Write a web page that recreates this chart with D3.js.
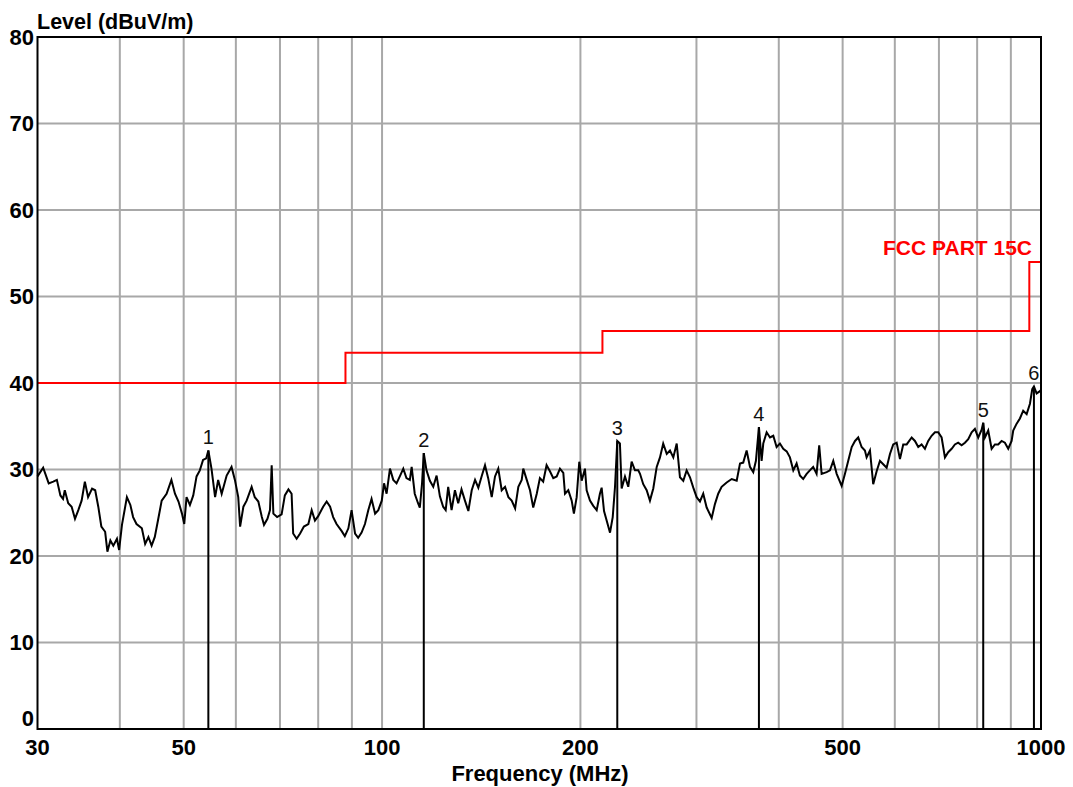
<!DOCTYPE html>
<html>
<head>
<meta charset="utf-8">
<script src="https://cdn.jsdelivr.net/npm/d3@7"></script>
<style>
  body { margin: 0; background: #fff; }
  svg { display: block; font-family: "Liberation Sans", Arial, sans-serif; }
</style>
</head>
<body>
<svg id="chart" width="1073" height="787"></svg>
<script>
// trace (MHz, dBuV/m)
var freqs = [30.0,30.6,31.2,31.7,32.1,32.5,32.8,33.0,33.4,33.8,34.2,34.6,35.0,35.4,35.8,36.3,36.7,37.1,37.5,38.0,
  38.3,38.7,39.1,39.6,39.9,40.3,41.0,41.5,41.9,42.4,43.2,43.7,44.2,44.7,45.2,45.7,46.3,47.1,47.9,48.5,
  49.1,49.7,50.1,50.5,51.1,51.7,52.3,52.9,53.5,54.1,54.5,55.1,55.8,56.4,57.1,58.1,59.1,59.8,60.5,60.9,
  61.6,62.3,63.4,64.1,64.9,65.7,66.2,67.0,67.6,68.0,68.4,69.3,70.4,71.2,72.1,72.9,73.3,74.2,75.1,76.1,
  77.3,78.2,79.1,80.0,81.4,82.4,83.4,84.3,85.3,86.8,87.8,88.9,89.9,91.0,92.0,93.1,94.2,95.3,96.4,97.6,
  98.7,99.9,100.7,101.6,102.8,104.0,105.2,106.4,107.7,108.9,110.2,110.9,112.1,113.4,114.1,115.0,115.7,116.8,118.2,119.6,
  121.0,122.4,123.8,124.9,126.0,127.5,129.0,130.5,132.0,133.6,135.2,136.8,138.4,140.0,141.6,143.3,144.9,146.7,148.4,150.1,
  151.9,153.7,155.5,157.3,159.2,161.0,162.9,163.8,165.8,167.7,169.6,171.7,173.6,175.6,177.7,179.8,181.9,184.1,186.2,188.4,
  189.5,191.7,194.0,195.5,197.4,199.2,200.9,203.2,204.4,206.8,209.2,211.7,214.1,215.4,217.2,219.2,221.8,223.9,225.7,227.5,
  229.6,231.0,233.7,236.4,239.2,242.0,244.8,246.3,249.1,252.1,255.0,258.0,261.1,264.1,267.1,270.4,273.5,276.7,280.0,283.2,
  286.5,289.9,293.3,296.7,300.2,303.7,307.2,310.9,316.4,320.0,323.7,327.6,333.4,339.3,345.3,349.3,353.3,357.5,361.7,365.9,
  369.3,373.2,376.7,378.9,383.4,387.9,392.4,397.0,401.6,406.3,411.2,415.9,420.8,425.7,430.6,435.6,440.9,445.9,451.1,456.5,
  460.7,464.6,472.8,478.3,483.9,489.7,498.3,504.1,509.9,516.1,522.1,528.0,534.3,540.5,543.7,550.1,556.4,563.1,569.6,576.2,
  583.1,589.9,596.7,603.9,610.9,617.9,625.4,636.4,643.7,651.2,658.9,666.6,674.3,682.3,690.3,698.3,706.6,714.9,723.1,731.8,
  740.2,748.7,757.8,766.6,775.5,784.8,793.8,803.1,812.7,817.2,822.1,831.6,841.5,851.3,861.1,871.5,881.5,891.8,902.4,907.5,
  918.4,929.0,939.7,951.1,962.1,969.9,975.6,984.8,993.9,1000];
var levels = [29.2,30.2,28.4,28.6,28.8,27.0,26.6,27.6,26.1,25.7,24.3,25.3,26.4,28.6,26.8,27.8,27.6,25.7,23.4,22.8,
  20.5,21.8,21.2,22.0,20.7,23.6,26.8,25.9,24.5,23.7,23.2,21.4,22.2,21.2,22.2,24.1,26.4,27.2,28.8,27.2,
  26.3,24.9,23.7,26.8,25.9,27.0,29.2,29.9,31.1,31.3,32.2,30.1,26.8,28.8,27.2,29.3,30.3,28.8,26.8,23.4,
  25.7,26.4,28.0,26.8,26.3,24.5,23.6,24.3,25.3,30.5,24.9,24.5,24.8,27.0,27.7,27.2,22.6,22.0,22.6,23.4,
  23.7,25.3,24.1,24.6,25.7,26.3,25.7,24.5,23.7,22.9,22.3,23.2,25.3,22.6,22.1,22.7,23.7,25.3,26.6,24.9,
  25.3,26.4,28.4,27.2,30.1,28.8,28.4,29.2,30.1,29.0,28.8,30.3,27.2,26.1,25.6,28.4,31.9,29.9,28.7,28.0,
  29.3,26.9,25.7,25.3,28.0,25.3,27.6,26.1,27.7,26.4,25.2,27.6,28.8,27.9,29.2,30.5,29.0,26.8,29.2,30.1,
  27.6,28.0,26.8,26.4,25.5,28.0,28.8,30.1,28.8,27.6,25.6,27.2,29.0,28.6,30.5,29.8,29.0,29.2,30.1,29.6,
  27.2,27.6,26.4,24.9,26.8,30.9,28.7,30.1,27.6,26.4,25.8,25.3,27.2,27.9,25.2,24.1,22.7,24.5,28.0,33.3,
  33.0,27.8,29.2,28.0,30.9,29.9,29.9,29.5,28.3,27.6,26.4,27.8,30.3,31.4,33.0,31.8,32.2,31.4,33.0,29.1,
  28.7,29.9,29.1,27.9,26.8,26.3,27.2,25.6,24.4,26.0,27.2,28.0,28.5,28.9,28.7,30.7,30.8,32.2,30.3,29.7,
  31.0,34.9,31.0,33.0,34.3,33.7,33.9,32.6,33.0,32.4,32.1,31.4,29.9,30.7,29.3,28.9,29.5,29.9,30.3,29.5,
  32.8,29.5,29.7,29.9,31.0,29.5,28.1,29.5,31.0,32.6,33.3,33.7,32.6,32.2,31.4,32.2,28.3,29.8,31.0,30.6,
  30.2,31.8,32.9,33.1,31.2,32.9,32.9,33.7,33.3,32.6,32.9,32.4,33.3,33.9,34.3,34.3,33.7,31.4,32.0,32.4,
  32.9,33.1,32.8,33.1,33.5,34.3,34.7,33.7,34.6,35.4,33.7,34.5,32.4,32.9,32.9,33.3,33.1,32.4,33.3,34.5,
  35.3,35.9,36.8,36.4,37.6,39.3,39.6,38.8,39.0,39.2];

var markerNames = ["1", "2", "3", "4", "5", "6"];
var markerFreqs = [54.5, 115.7, 227.5, 373.2, 817.2, 975.6];
var markerLevels = [32.2, 31.9, 33.3, 34.9, 35.4, 39.6];

// FCC part 15C class B limit, steps
var limitFreqs = [30, 88, 216, 960, 1000];
var limitLevels = [40, 43.5, 46, 54, 54];

var xTicks = [30, 50, 100, 200, 500, 1000];
var xGrid = [40, 50, 60, 70, 80, 90, 100, 200, 300, 400, 500, 600, 700, 800, 900];
var yTicks = [0, 10, 20, 30, 40, 50, 60, 70, 80];

var svg = d3.select("#chart"),
    margin = {top: 37, right: 32, bottom: 58, left: 37.5},
    width = 1073 - margin.left - margin.right,
    height = 787 - margin.top - margin.bottom;

var x = d3.scaleLog().domain([30, 1000]).range([margin.left, margin.left + width]);
var y = d3.scaleLinear().domain([0, 80]).range([margin.top + height, margin.top]);

svg.append("rect").attr("width", 1073).attr("height", 787).attr("fill", "#fff");

// grid
var grid = svg.append("g").attr("stroke", "#a8a8a8").attr("stroke-width", 2);
grid.selectAll(".vg").data(xGrid).enter().append("line")
  .attr("x1", function(d){ return x(d); }).attr("x2", function(d){ return x(d); })
  .attr("y1", y(80)).attr("y2", y(0));
grid.selectAll(".hg").data(yTicks.slice(1, -1)).enter().append("line")
  .attr("x1", x(30)).attr("x2", x(1000))
  .attr("y1", function(d){ return y(d); }).attr("y2", function(d){ return y(d); });

// limit line
var limitPts = limitFreqs.map(function(f, i){ return [f, limitLevels[i]]; });
svg.append("path")
  .datum(limitPts)
  .attr("fill", "none")
  .attr("stroke", "#ff0000")
  .attr("stroke-width", 2)
  .attr("d", d3.line().curve(d3.curveStepAfter)
    .x(function(d){ return x(d[0]); }).y(function(d){ return y(d[1]); }));

svg.append("text")
  .attr("x", 1032).attr("y", 255)
  .attr("text-anchor", "end")
  .attr("fill", "#ff0000")
  .style("font-weight", "bold").style("font-size", "21px")
  .text("FCC PART 15C");

// trace
svg.append("path")
  .datum(freqs.map(function(f, i){ return [f, levels[i]]; }))
  .attr("fill", "none")
  .attr("stroke", "#000")
  .attr("stroke-width", 2)
  .attr("stroke-linejoin", "miter")
  .attr("d", d3.line().x(function(d){ return x(d[0]); }).y(function(d){ return y(d[1]); }));

// markers
var mk = svg.append("g");
mk.selectAll("line").data(markerFreqs).enter().append("line")
  .attr("x1", function(d){ return x(d); }).attr("x2", function(d){ return x(d); })
  .attr("y1", y(0)).attr("y2", function(d, i){ return y(markerLevels[i]); })
  .attr("stroke", "#000").attr("stroke-width", 2);
mk.selectAll("text").data(markerFreqs).enter().append("text")
  .attr("x", function(d){ return x(d); })
  .attr("y", function(d, i){ return y(markerLevels[i]) - 6; })
  .attr("text-anchor", "middle")
  .attr("fill", "#111")
  .style("font-size", "20px")
  .text(function(d, i){ return markerNames[i]; });

// frame
svg.append("rect")
  .attr("x", x(30)).attr("y", y(80))
  .attr("width", x(1000) - x(30)).attr("height", y(0) - y(80))
  .attr("fill", "none").attr("stroke", "#000").attr("stroke-width", 2);

// tick labels
svg.append("g").selectAll("text").data(xTicks).enter().append("text")
  .attr("x", function(d){ return x(d); }).attr("y", 755)
  .attr("text-anchor", "middle")
  .style("font-weight", "bold").style("font-size", "22px")
  .text(function(d){ return d; });

svg.append("g").selectAll("text").data(yTicks).enter().append("text")
  .attr("x", 34)
  .attr("y", function(d){ return d == 0 ? y(0) - 11 : y(d); })
  .attr("dy", "0.36em")
  .attr("text-anchor", "end")
  .style("font-weight", "bold").style("font-size", "22px")
  .text(function(d){ return d; });

svg.append("text")
  .attr("x", 37).attr("y", 29)
  .style("font-weight", "bold").style("font-size", "21.5px")
  .text("Level (dBuV/m)");

svg.append("text")
  .attr("x", 540).attr("y", 781)
  .attr("text-anchor", "middle")
  .style("font-weight", "bold").style("font-size", "22px")
  .text("Frequency (MHz)");
</script>
</body>
</html>
